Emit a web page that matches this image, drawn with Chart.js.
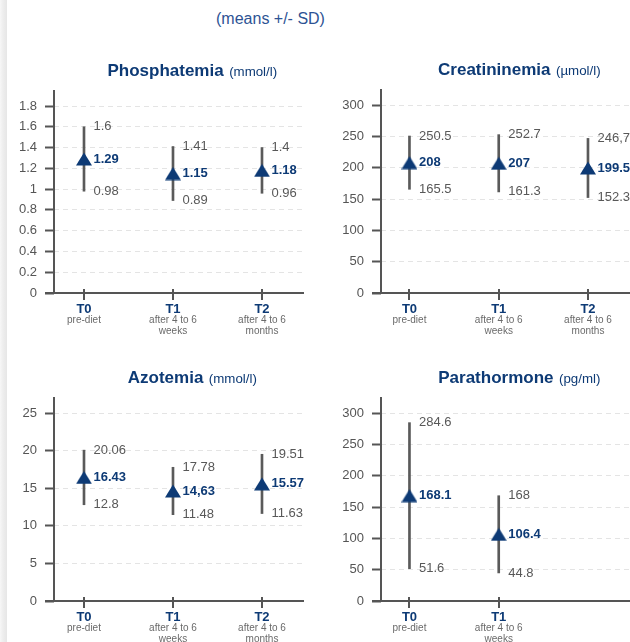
<!DOCTYPE html>
<html><head><meta charset="utf-8">
<script src="https://cdn.jsdelivr.net/npm/chart.js@4.4.1/dist/chart.umd.min.js"></script>
<style>
html,body{margin:0;padding:0;background:#fff;width:630px;height:642px;overflow:hidden;}
#edge{position:absolute;left:0;top:0;width:7px;height:642px;background:linear-gradient(to right,#f7f7f7 0%,#eeeeee 40%,#e6e6e6 100%);}
#sub{position:absolute;left:0;top:10px;width:541px;text-align:center;font:16px/18px 'Liberation Sans',Arial,sans-serif;color:#2d5394;white-space:nowrap;}
canvas{position:absolute;}
</style></head><body>
<div id="edge"></div>
<div id="sub">(means +/- SD)</div>
<canvas id="phos" width="340" height="290" style="left:0;top:60px"></canvas>
<canvas id="creat" width="340" height="290" style="left:326px;top:60px"></canvas>
<canvas id="azot" width="340" height="290" style="left:0;top:365px"></canvas>
<canvas id="para" width="340" height="290" style="left:326px;top:365px"></canvas>
<script>
// ---- categories ----
const timepoints = ['T0', 'T1', 'T2'];
const timeNotes = [['pre-diet'], ['after 4 to 6', 'weeks'], ['after 4 to 6', 'months']];

// ---- Phosphatemia (mmol/l) ----
const phosMean = [1.29, 1.15, 1.18];
const phosHigh = [1.6, 1.41, 1.4];
const phosLow = [0.98, 0.89, 0.96];
const phosTicks = [0, 0.2, 0.4, 0.6, 0.8, 1, 1.2, 1.4, 1.6, 1.8];
const phosTickLabels = ['0', '0.2', '0.4', '0.6', '0.8', '1', '1.2', '1.4', '1.6', '1.8'];

// ---- Creatininemia (µmol/l) ----
const creatMean = [208, 207, 199.5];
const creatHigh = [250.5, 252.7, 246.7];
const creatLow = [165.5, 161.3, 152.3];
const creatHighText = ['250.5', '252.7', '246,7'];
const creatTicks = [0, 50, 100, 150, 200, 250, 300];
const creatTickLabels = ['0', '50', '100', '150', '200', '250', '300'];

// ---- Azotemia (mmol/l) ----
const azotMean = [16.43, 14.63, 15.57];
const azotHigh = [20.06, 17.78, 19.51];
const azotLow = [12.8, 11.48, 11.63];
const azotMeanText = ['16.43', '14,63', '15.57'];
const azotTicks = [0, 5, 10, 15, 20, 25];
const azotTickLabels = ['0', '5', '10', '15', '20', '25'];

// ---- Parathormone (pg/ml) ----
const paraMean = [168.1, 106.4];
const paraHigh = [284.6, 168];
const paraLow = [51.6, 44.8];
const paraTicks = [0, 50, 100, 150, 200, 250, 300];
const paraTickLabels = ['0', '50', '100', '150', '200', '250', '300'];

const FONT = "'Liberation Sans', Arial, Helvetica, sans-serif";
const NAVY = '#0d3a75';
const GRAY = '#585858';
Chart.defaults.font.family = FONT;

const tri = document.createElement('canvas');
tri.width = 16; tri.height = 14;
(function () {
  const t = tri.getContext('2d');
  t.fillStyle = NAVY;
  t.beginPath(); t.moveTo(8, 0.5); t.lineTo(16, 13.5); t.lineTo(0, 13.5); t.closePath(); t.fill();
})();

const cfgs = {};

const decor = {
  id: 'decor',
  beforeDatasetsDraw(chart) {
    const cfg = cfgs[chart.canvas.id];
    const { ctx, chartArea: a } = chart;
    const x = chart.scales.x;
    ctx.save();
    ctx.strokeStyle = '#555';
    ctx.lineWidth = 2;
    ctx.beginPath();
    ctx.moveTo(a.left, a.top - 16); ctx.lineTo(a.left, a.bottom + 1);
    ctx.moveTo(a.left - 9, a.bottom); ctx.lineTo(a.right, a.bottom);
    cfg.mean.forEach((_, i) => {
      const px = Math.round(x.getPixelForValue(i));
      ctx.moveTo(px, a.bottom - 4); ctx.lineTo(px, a.bottom + 7);
    });
    ctx.stroke();
    ctx.restore();
  },
  afterDatasetsDraw(chart) {
    const cfg = cfgs[chart.canvas.id];
    const { ctx, chartArea: a } = chart;
    const x = chart.scales.x, y = chart.scales.y;
    ctx.save();
    // value labels
    ctx.textAlign = 'left';
    ctx.textBaseline = 'middle';
    cfg.mean.forEach((m, i) => {
      const px = x.getPixelForValue(i) + 9.5;
      ctx.font = '13px ' + FONT;
      ctx.fillStyle = GRAY;
      ctx.fillText(cfg.highText ? cfg.highText[i] : String(cfg.high[i]), px, y.getPixelForValue(cfg.high[i]));
      ctx.fillText(cfg.lowText ? cfg.lowText[i] : String(cfg.low[i]), px, y.getPixelForValue(cfg.low[i]));
      ctx.font = 'bold 13px ' + FONT;
      ctx.fillStyle = NAVY;
      ctx.fillText(cfg.meanText ? cfg.meanText[i] : String(m), px, y.getPixelForValue(m));
    });
    // category labels
    ctx.textAlign = 'center';
    ctx.textBaseline = 'alphabetic';
    cfg.mean.forEach((_, i) => {
      const px = x.getPixelForValue(i);
      ctx.font = 'bold 13px ' + FONT;
      ctx.fillStyle = NAVY;
      ctx.fillText(timepoints[i], px, a.bottom + 20);
      ctx.font = '10px ' + FONT;
      ctx.fillStyle = '#6a6a6a';
      timeNotes[i].forEach((line, k) => ctx.fillText(line, px, a.bottom + 30 + k * 10.6));
    });
    // title
    ctx.textAlign = 'left';
    ctx.font = 'bold 17px ' + FONT;
    const w1 = ctx.measureText(cfg.title).width;
    ctx.font = '13.3px ' + FONT;
    const w2 = ctx.measureText(cfg.unit).width;
    const gap = 5.5;
    const sx = a.left + 138.3 - (w1 + gap + w2) / 2;
    const by = a.top - 30;
    ctx.fillStyle = NAVY;
    ctx.font = 'bold 17px ' + FONT;
    ctx.fillText(cfg.title, sx, by);
    ctx.font = '13.3px ' + FONT;
    ctx.fillText(cfg.unit, sx + w1 + gap, by);
    ctx.restore();
  }
};

function makeChart(id, cfg) {
  cfgs[id] = cfg;
  const idx = cfg.mean.map((_, i) => i);
  new Chart(document.getElementById(id), {
    type: 'scatter',
    data: {
      datasets: [
        {
          type: 'bar',
          data: idx.map(i => ({ x: i, y: [cfg.low[i], cfg.high[i]] })),
          backgroundColor: '#5a5a5a',
          borderWidth: 0,
          barThickness: 2,
          order: 2
        },
        {
          type: 'scatter',
          data: idx.map(i => ({ x: i, y: cfg.mean[i] })),
          pointStyle: tri,
          pointRadius: 8,
          order: 1
        }
      ]
    },
    options: {
      responsive: false,
      animation: false,
      events: [],
      layout: { padding: { left: 0, top: cfg.padTop, right: cfg.padRight, bottom: cfg.padBottom } },
      plugins: { legend: { display: false }, tooltip: { enabled: false }, title: { display: false } },
      scales: {
        x: { type: 'linear', display: false, offset: false, min: cfg.xMin, max: cfg.xMax },
        y: {
          type: 'linear',
          min: 0,
          max: cfg.ticks[cfg.ticks.length - 1],
          afterBuildTicks: s => { s.ticks = cfg.ticks.map(v => ({ value: v })); },
          afterFit: s => { s.width = cfg.axisW; s.paddingTop = 0; s.paddingBottom = 0; },
          grid: { color: '#e4e4e4', lineWidth: 1, tickColor: '#555', tickWidth: 2, tickLength: 9 },
          border: { display: false, dash: [5, 4] },
          ticks: {
            color: '#555',
            font: { family: FONT, size: 13 },
            padding: 8,
            callback: (v, i) => cfg.tickLabels[i]
          }
        }
      }
    },
    plugins: [decor]
  });
}

makeChart('phos', {
  title: 'Phosphatemia', unit: '(mmol/l)',
  mean: phosMean, high: phosHigh, low: phosLow,
  ticks: phosTicks, tickLabels: phosTickLabels,
  axisW: 54, padTop: 46, padBottom: 57, padRight: 36, xMin: -0.337, xMax: 2.472
});
makeChart('creat', {
  title: 'Creatininemia', unit: '(\u00b5mol/l)',
  mean: creatMean, high: creatHigh, low: creatLow, highText: creatHighText,
  ticks: creatTicks, tickLabels: creatTickLabels,
  axisW: 55, padTop: 45, padBottom: 57, padRight: 35, xMin: -0.319, xMax: 2.482
});
makeChart('azot', {
  title: 'Azotemia', unit: '(mmol/l)',
  mean: azotMean, high: azotHigh, low: azotLow, meanText: azotMeanText,
  ticks: azotTicks, tickLabels: azotTickLabels,
  axisW: 54, padTop: 48, padBottom: 54, padRight: 36, xMin: -0.337, xMax: 2.472
});
makeChart('para', {
  title: 'Parathormone', unit: '(pg/ml)',
  mean: paraMean, high: paraHigh, low: paraLow,
  ticks: paraTicks, tickLabels: paraTickLabels,
  axisW: 55, padTop: 48, padBottom: 54, padRight: 35, xMin: -0.319, xMax: 2.482
});
</script>
</body></html>
